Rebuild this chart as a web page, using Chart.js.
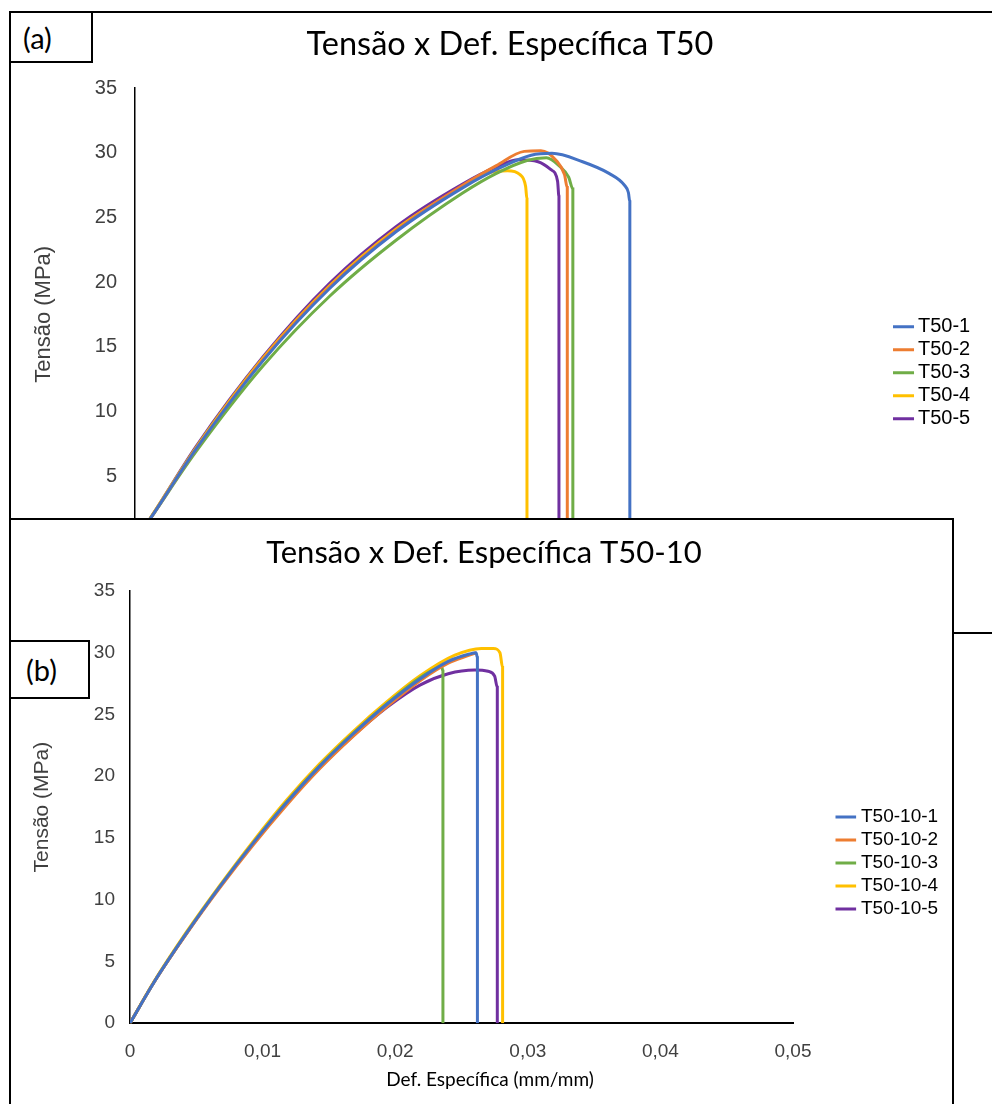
<!DOCTYPE html>
<html>
<head>
<meta charset="utf-8">
<script src="https://cdn.jsdelivr.net/npm/chart.js@4.4.1/dist/chart.umd.min.js"></script>
<style>
  html, body { margin: 0; padding: 0; background: #fff; overflow: hidden; }
  body { width: 992px; height: 1104px; position: relative; }
  .panel { position: absolute; box-sizing: border-box; border: 2px solid #000; background: #fff; }
  .tag { position: absolute; box-sizing: border-box; border: 2px solid #000; background: #fff;
         font-family: Lato, sans-serif; font-size: 29px; color: #000; line-height: 1;
         display: flex; align-items: center; }
  canvas { position: absolute; }
</style>
</head>
<body>
<div class="panel" style="left:9px;top:11px;width:1000px;height:623px;z-index:1"></div>
<canvas id="chartA" width="981" height="617" style="left:11px;top:13px;z-index:2"></canvas>
<div class="tag" style="left:9px;top:11px;width:84px;height:52px;padding-left:12px;z-index:3">(a)</div>
<div class="panel" style="left:9px;top:518px;width:945px;height:600px;z-index:4"></div>
<canvas id="chartB" width="941" height="584" style="left:11px;top:520px;z-index:5"></canvas>
<div class="tag" style="left:9px;top:640px;width:81px;height:59px;padding-left:15px;z-index:6">(b)</div>

<script>
const colors = ['#4472C4', '#ED7D31', '#70AD47', '#FFC000', '#7030A0'];

const namesA = ['T50-1', 'T50-2', 'T50-3', 'T50-4', 'T50-5'];
const namesB = ['T50-10-1', 'T50-10-2', 'T50-10-3', 'T50-10-4', 'T50-10-5'];

const yTickLabels = ['0', '5', '10', '15', '20', '25', '30', '35'];
const xTickLabels = ['0', '0,01', '0,02', '0,03', '0,04', '0,05'];

// T50 - strain (mm/mm) and stress (MPa)
const strainA1 = [0, 0.0011, 0.0044, 0.0092, 0.0140, 0.0188, 0.0236, 0.0262, 0.0285, 0.0300, 0.0322, 0.0341, 0.0352, 0.0355, 0.0356, 0.0356];
const stressA1 = [0, 1.7, 7.1, 13.9, 19.5, 23.9, 27.3, 28.8, 29.8, 29.95, 29.3, 28.4, 27.5, 26.9, 26.2, 0];
const strainA2 = [0, 0.0011, 0.0044, 0.0092, 0.0140, 0.0188, 0.0236, 0.0260, 0.0280, 0.0292, 0.0303, 0.0309, 0.0311, 0.0311];
const stressA2 = [0, 1.7, 7.1, 14.0, 19.6, 24.0, 27.5, 29.0, 30.1, 30.15, 29.4, 28.3, 27.3, 0];
const strainA3 = [0, 0.0011, 0.0044, 0.0092, 0.0140, 0.0188, 0.0236, 0.0260, 0.0282, 0.0296, 0.0305, 0.0312, 0.0315, 0.0315];
const stressA3 = [0, 1.7, 6.9, 13.5, 18.9, 23.25, 26.9, 28.4, 29.4, 29.6, 29.0, 28.1, 27.2, 0];
const strainA4 = [0, 0.0011, 0.0044, 0.0092, 0.0140, 0.0188, 0.0236, 0.0255, 0.0268, 0.0277, 0.0281, 0.0282, 0.0282];
const stressA4 = [0, 1.75, 7.2, 14.1, 19.7, 24.1, 27.4, 28.45, 28.6, 28.3, 27.4, 26.4, 0];
const strainA5 = [0, 0.0011, 0.0044, 0.0092, 0.0140, 0.0188, 0.0236, 0.0260, 0.0276, 0.0290, 0.0299, 0.0304, 0.0305, 0.0305];
const stressA5 = [0, 1.73, 7.3, 14.2, 19.9, 24.3, 27.6, 28.9, 29.45, 29.3, 28.7, 27.8, 26.6, 0];

// T50-10
const strainB1 = [0, 0.0018, 0.0043, 0.0068, 0.0093, 0.0118, 0.0143, 0.0168, 0.0194, 0.0219, 0.0240, 0.0256, 0.0261, 0.0262, 0.0262];
const stressB1 = [0, 3.3, 7.35, 11.1, 14.6, 17.85, 20.8, 23.4, 25.85, 27.9, 29.3, 29.9, 30.0, 29.6, 0];
const strainB2 = [0, 0.0018, 0.0043, 0.0068, 0.0093, 0.0118, 0.0143, 0.0168, 0.0194, 0.0219, 0.0240, 0.0256, 0.0261];
const stressB2 = [0, 3.3, 7.3, 11.0, 14.45, 17.65, 20.6, 23.2, 25.65, 27.75, 29.15, 29.8, 30.0];
const strainB3 = [0, 0.0018, 0.0043, 0.0068, 0.0093, 0.0118, 0.0143, 0.0168, 0.0194, 0.0219, 0.0232, 0.0235, 0.0236, 0.0236];
const stressB3 = [0, 3.3, 7.35, 11.1, 14.6, 17.9, 20.85, 23.45, 25.9, 28.0, 28.8, 28.9, 28.5, 0];
const strainB4 = [0, 0.0018, 0.0043, 0.0068, 0.0093, 0.0118, 0.0143, 0.0168, 0.0194, 0.0219, 0.0245, 0.0265, 0.0274, 0.0279, 0.0281, 0.0281];
const stressB4 = [0, 3.35, 7.45, 11.2, 14.75, 18.05, 21.0, 23.6, 26.05, 28.15, 29.8, 30.35, 30.35, 30.0, 28.8, 0];
const strainB5 = [0, 0.0018, 0.0043, 0.0068, 0.0093, 0.0118, 0.0143, 0.0168, 0.0194, 0.0219, 0.0240, 0.0260, 0.0270, 0.0275, 0.0277, 0.0277];
const stressB5 = [0, 3.3, 7.35, 11.1, 14.6, 17.8, 20.7, 23.25, 25.6, 27.4, 28.3, 28.6, 28.5, 28.1, 27.2, 0];

Chart.defaults.font.family = '"Liberation Sans", Arial, sans-serif';

// moves the title, legend and bottom subtitle boxes after layout so the plot area stays fixed
const placeBoxes = {
    id: 'placeBoxes',
    afterLayout(chart, args, opts) {
        const center = (box, x) => {
            const w = box.right - box.left;
            box.left = x - w / 2;
            box.right = box.left + w;
        };
        if (chart.titleBlock && opts.titleX !== undefined) center(chart.titleBlock, opts.titleX);
        if (opts.subtitleX !== undefined) {
            const sub = chart.boxes.find(b => b !== chart.titleBlock && b.position === 'bottom' && b.options && b.options.text);
            if (sub) center(sub, opts.subtitleX);
        }
        const lg = chart.legend;
        if (lg && opts.legendX !== undefined) {
            lg.left = opts.legendX;
            lg.right = lg.left + lg.width;
            lg.top = opts.legendY;
            lg.bottom = lg.top + lg.height;
        }
    }
};

function buildDatasets(names, strains, stresses) {
    return names.map((name, i) => ({
        label: name,
        data: strains[i].map((x, j) => ({ x: x, y: stresses[i][j] })),
        borderColor: colors[i],
        backgroundColor: colors[i],
        borderWidth: 3,
        pointRadius: 0,
        pointHoverRadius: 0,
        cubicInterpolationMode: 'monotone',
        fill: false
    }));
}

function makeChart(id, datasets, s) {
    return new Chart(document.getElementById(id), {
        type: 'line',
        data: { datasets: datasets },
        plugins: [placeBoxes],
        options: {
            responsive: false,
            animation: false,
            layout: { padding: { left: s.padL, right: s.padR, top: 0, bottom: 0 } },
            scales: {
                x: {
                    type: 'linear',
                    min: 0,
                    max: 0.05,
                    ticks: {
                        stepSize: 0.01,
                        padding: 17,
                        color: '#404040',
                        font: { size: s.tickSize },
                        callback: (value, index) => xTickLabels[index]
                    },
                    grid: { display: false, drawTicks: false },
                    border: { display: true, color: '#000', width: 2 },
                    afterFit: (scale) => { scale.height = s.xH; }
                },
                y: {
                    min: 0,
                    max: 35,
                    ticks: {
                        stepSize: 5,
                        padding: s.yTickPad,
                        color: '#404040',
                        font: { size: s.tickSize },
                        callback: (value, index) => yTickLabels[index]
                    },
                    grid: { display: false, drawTicks: false },
                    border: { display: true, color: '#000', width: 1.5 },
                    title: {
                        display: true,
                        text: 'Tensão (MPa)',
                        color: '#404040',
                        font: { size: s.yTitleSize }
                    },
                    afterFit: (scale) => { scale.width = s.yW; }
                }
            },
            plugins: {
                title: {
                    display: true,
                    text: s.title,
                    color: '#000',
                    font: { family: 'Lato, sans-serif', size: s.titleSize, weight: 'normal' },
                    padding: { top: s.titlePadTop, bottom: s.titlePadBottom }
                },
                subtitle: {
                    display: s.xTitle !== '',
                    position: 'bottom',
                    text: s.xTitle,
                    color: '#000',
                    font: { family: 'Lato, sans-serif', size: 19, weight: 'normal' },
                    padding: { top: 0, bottom: s.xTitlePadBottom }
                },
                legend: {
                    position: 'chartArea',
                    align: 'start',
                    labels: {
                        color: '#000',
                        font: { size: s.legendSize },
                        usePointStyle: true,
                        pointStyle: 'line',
                        boxWidth: 12,
                        boxHeight: s.legendBoxH,
                        padding: s.legendPad
                    }
                },
                tooltip: { enabled: false },
                placeBoxes: { titleX: s.titleX, subtitleX: s.subtitleX, legendX: s.legendX, legendY: s.legendY }
            }
        }
    });
}

const chartA = makeChart('chartA',
    buildDatasets(namesA, [strainA1, strainA2, strainA3, strainA4, strainA5], [stressA1, stressA2, stressA3, stressA4, stressA5]),
    {
        title: 'Tensão x Def. Específica T50', xTitle: '',
        padL: 15.8, padR: 162, yW: 108.2, xH: 89.3, xTitlePadBottom: 0,
        titleSize: 32.5, titlePadTop: 12.5, titlePadBottom: 23.5, titleX: 499,
        tickSize: 20, yTickPad: 18, yTitleSize: 22,
        legendSize: 20, legendPad: 3, legendBoxH: 17, legendX: 882, legendY: 300.7
    });

const chartB = makeChart('chartB',
    buildDatasets(namesB, [strainB1, strainB2, strainB3, strainB4, strainB5], [stressB1, stressB2, stressB3, stressB4, stressB5]),
    {
        title: 'Tensão x Def. Específica T50-10', xTitle: 'Def. Específica (mm/mm)',
        padL: 14.4, padR: 159, yW: 104.6, xH: 45.2, xTitlePadBottom: 12.8, subtitleX: 479,
        titleSize: 31, titlePadTop: 14.4, titlePadBottom: 19.4, titleX: 473,
        tickSize: 19, yTickPad: 15, yTitleSize: 21,
        legendSize: 19, legendPad: 4, legendBoxH: 15, legendX: 824.5, legendY: 283.5
    });
</script>
</body>
</html>
